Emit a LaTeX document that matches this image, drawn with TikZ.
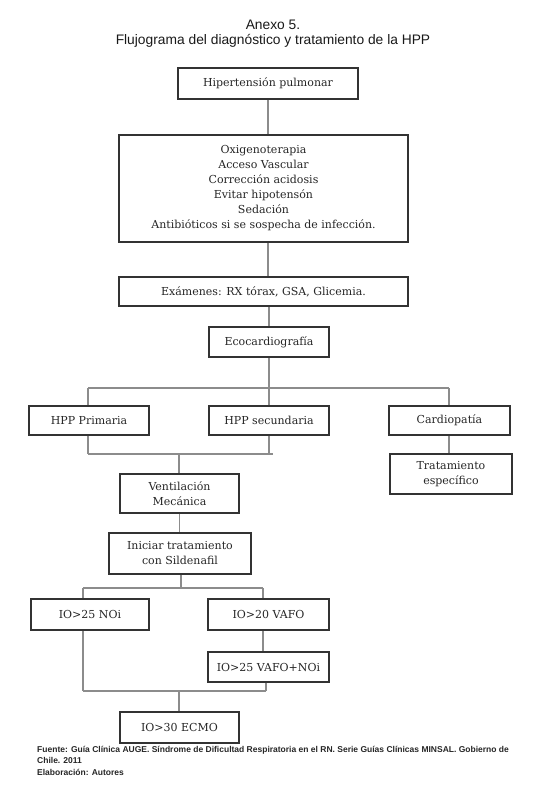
\documentclass[tikz,border=0pt]{standalone}
\usepackage{fontspec}
\setmainfont{DejaVu Serif}
\newfontfamily\titlefont{Liberation Sans}
\begin{document}
\begin{tikzpicture}[x=1pt,y=-1pt,
  box/.style={draw=black!80, line width=1.6pt, fill=white, inner sep=0pt, align=center,
    font=\fontsize{11}{15}\selectfont, text=black!85},
  conn/.style={draw=black!45, line width=1.4pt}]
\useasboundingbox (0,0) rectangle (546,812);
% title
\node[font=\titlefont\fontsize{13.8}{16}\selectfont, text=black!90] (t1) at (273,25) {Anexo 5.};
\node[font=\titlefont\fontsize{13.8}{16}\selectfont, text=black!90] (t2) at (273,41) {Flujograma del diagnóstico y tratamiento de la HPP};
% boxes
\node[box, minimum width=180, minimum height=31] (hp) at (268,83.5) {Hipertensión pulmonar};
\node[box, minimum width=289, minimum height=107] (b2) at (263.5,188.5) {Oxigenoterapia\\Acceso Vascular\\Corrección acidosis\\Evitar hipotensón\\Sedación\\Antibióticos si se sospecha de infección.};
\node[box, minimum width=289, minimum height=29] (ex) at (263.5,291.5) {Exámenes: RX tórax, GSA, Glicemia.};
\node[box, minimum width=120, minimum height=30] (eco) at (269,342) {Ecocardiografía};
\node[box, minimum width=120, minimum height=29] (prim) at (89,420.5) {HPP Primaria};
\node[box, minimum width=120, minimum height=29] (sec) at (269,420.5) {HPP secundaria};
\node[box, minimum width=121, minimum height=29] (card) at (449.5,420.5) {Cardiopatía};
\node[box, minimum width=122, minimum height=40] (trat) at (451,474) {Tratamiento\\específico};
\node[box, minimum width=119, minimum height=39] (vent) at (179.5,493.5) {Ventilación\\Mecánica};
\node[box, minimum width=142, minimum height=41] (ini) at (180,553.5) {Iniciar tratamiento\\con Sildenafil};
\node[box, minimum width=118, minimum height=31] (noi) at (90,614.5) {IO>25 NOi};
\node[box, minimum width=121, minimum height=31] (vafo) at (268.5,614.5) {IO>20 VAFO};
\node[box, minimum width=121, minimum height=30] (vn) at (268.5,667) {IO>25 VAFO+NOi};
\node[box, minimum width=119, minimum height=31] (ecmo) at (179.5,727.5) {IO>30 ECMO};
% junction coordinates
\coordinate (j1) at (269,388);
\coordinate (j1L) at (88,388);
\coordinate (j1R) at (449,388);
\coordinate (j2) at (179,454);
\coordinate (j2L) at (88,454);
\coordinate (j2R) at (273,454);
\coordinate (j3) at (181,588);
\coordinate (j3L) at (83,588);
\coordinate (j3R) at (263,588);
\coordinate (j4) at (179,691);
\coordinate (j4L) at (83,691);
\coordinate (j4R) at (266,691);
% connectors
\draw[conn] (hp.south) -- (hp.south |- b2.north);
\draw[conn] (hp.south |- b2.south) -- (hp.south |- ex.north);
\draw[conn] (eco.north |- ex.south) -- (eco.north);
\draw[conn] (eco.south) -- (j1);
\draw[conn] (j1L) -- (j1R);
\draw[conn] (j1L) -- (j1L |- prim.north);
\draw[conn] (j1 |- sec.north) -- (j1);
\draw[conn] (j1R) -- (j1R |- card.north);
\draw[conn] (j2L |- prim.south) -- (j2L);
\draw[conn] (sec.south) -- (sec.south |- j2);
\draw[conn] (j2L) -- (j2R);
\draw[conn] (j2) -- (j2 |- vent.north);
\draw[conn] (vent.south) -- (vent.south |- ini.north);
\draw[conn] (j1R |- card.south) -- (j1R |- trat.north);
\draw[conn] (j3 |- ini.south) -- (j3);
\draw[conn] (j3L) -- (j3R);
\draw[conn] (j3L) -- (j3L |- noi.north);
\draw[conn] (j3R) -- (j3R |- vafo.north);
\draw[conn] (j3R |- vafo.south) -- (j3R |- vn.north);
\draw[conn] (j4L |- noi.south) -- (j4L);
\draw[conn] (j4R |- vn.south) -- (j4R);
\draw[conn] (j4L) -- (j4R);
\draw[conn] (j4) -- (j4 |- ecmo.north);
% footer
\node[anchor=north west, align=left, inner sep=0pt, text=black!85,
  font=\titlefont\bfseries\fontsize{8.5}{11.5}\selectfont] (foot) at (37,746)
  {Fuente: Guía Clínica AUGE. Síndrome de Dificultad Respiratoria en el RN. Serie Guías Clínicas MINSAL. Gobierno de\\Chile. 2011\\Elaboración: Autores};
\end{tikzpicture}
\end{document}
